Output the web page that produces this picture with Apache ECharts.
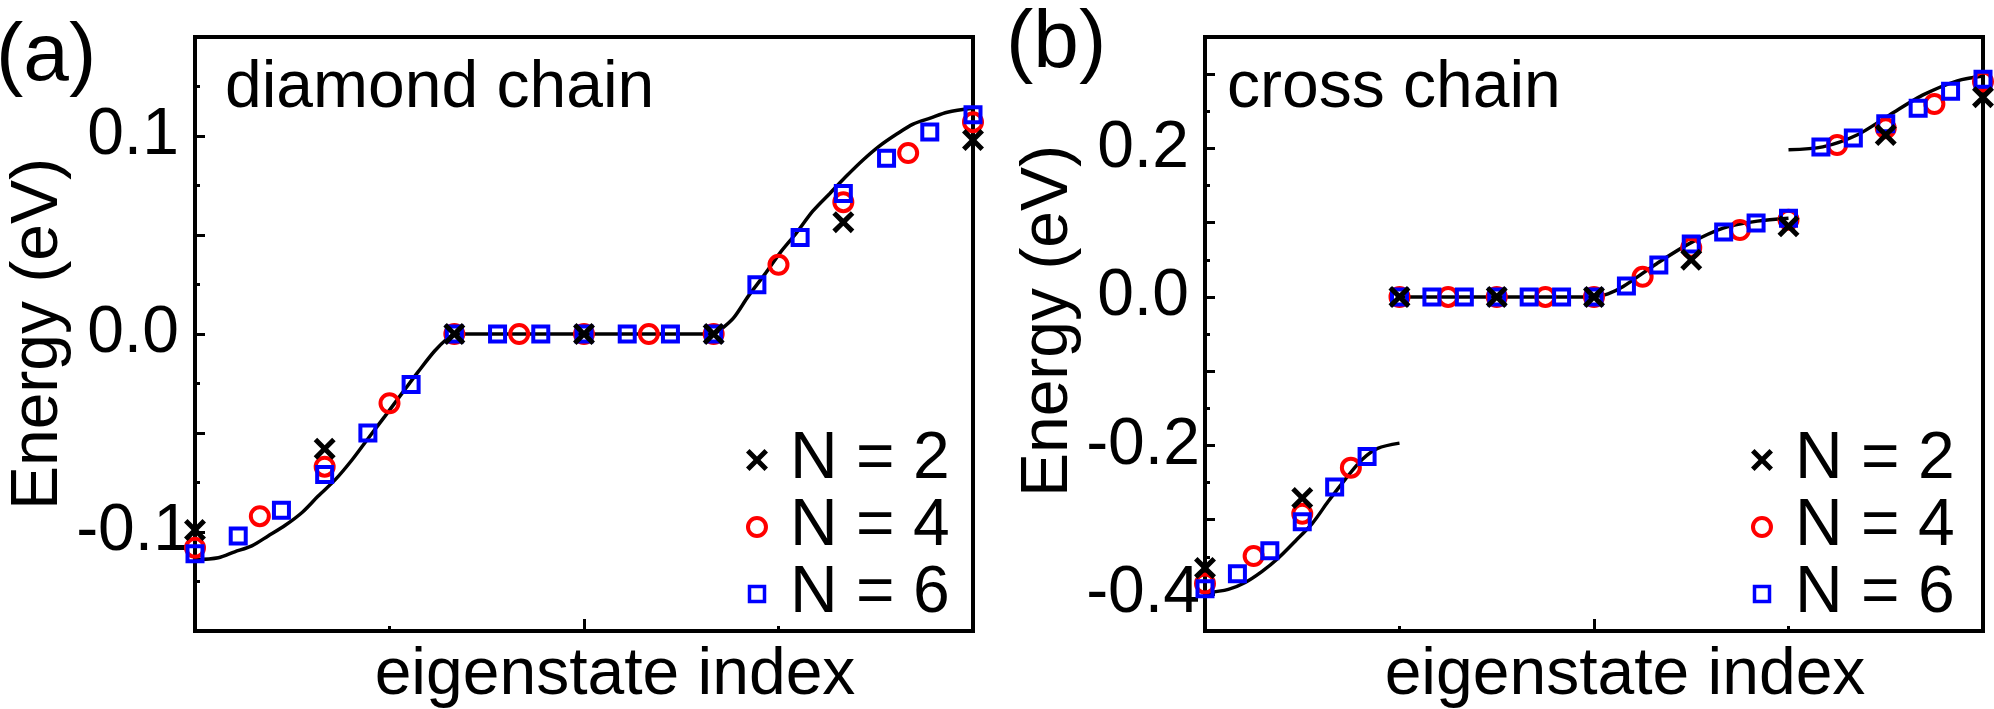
<!DOCTYPE html>
<html>
<head>
<meta charset="utf-8">
<script src="https://cdn.jsdelivr.net/npm/echarts@6/dist/echarts.min.js"></script>
<style>
html,body{margin:0;padding:0;background:#fff;}
#chart{width:1994px;height:709px;}
</style>
</head>
<body>
<div id="chart"></div>
<script>
const FONT = '"Liberation Sans", Arial, Helvetica, sans-serif';

// ---------- Panel (a): diamond chain (values in eV, one per eigenstate) ----------
const diamondN2 = [-0.099, -0.058, 0, 0, 0, 0.0565, 0.098];
const diamondN4 = [-0.108, -0.092, -0.067, -0.035, 0, 0, 0, 0, 0, 0.035, 0.0666, 0.0914, 0.107];
const diamondN6 = [-0.111, -0.102, -0.089, -0.071, -0.050, -0.0255, 0, 0, 0, 0, 0, 0, 0,
                   0.0249, 0.0487, 0.071, 0.0888, 0.102, 0.1107];
// continuum curve, [normalized index, energy]
const diamondCurveLow  = [[0,-0.114],[0.030,-0.113],[0.051,-0.110],[0.073,-0.107],[0.094,-0.102],[0.116,-0.0966],
                          [0.138,-0.090],[0.158,-0.082],[0.180,-0.0737],[0.202,-0.0635],[0.222,-0.053],[0.244,-0.0416],
                          [0.266,-0.030],[0.287,-0.019],[0.308,-0.0086],[0.325,-0.002],[0.3333,0]];
const diamondFlat      = [[0.3333,0],[0.6667,0]];
const diamondCurveHigh = [[0.6667,0],[0.675,0.002],[0.692,0.008],[0.711,0.019],[0.732,0.030],[0.752,0.041],
                          [0.773,0.051],[0.794,0.062],[0.816,0.071],[0.838,0.080],[0.859,0.088],[0.880,0.095],
                          [0.902,0.101],[0.923,0.106],[0.945,0.109],[0.967,0.112],[1,0.114]];

// ---------- Panel (b): cross chain ----------
const crossN2 = [-0.365, -0.271, 0, 0, 0, 0.050, 0.095, 0.218, 0.269];
const crossN4 = [-0.386, -0.349, -0.292, -0.230, 0, 0, 0, 0, 0, 0.027, 0.066, 0.090, 0.104,
                 0.2046, 0.227, 0.2597, 0.290];
const crossN6 = [-0.393, -0.373, -0.342, -0.303, -0.256, -0.215, 0, 0, 0, 0, 0, 0, 0,
                 0.0148, 0.043, 0.0713, 0.0875, 0.0995, 0.106,
                 0.202, 0.214, 0.233, 0.254, 0.277, 0.293];
const crossCurveLow  = [[0,-0.399],[0.030,-0.394],[0.051,-0.385],[0.073,-0.370],[0.094,-0.352],[0.116,-0.329],
                        [0.138,-0.305],[0.158,-0.276],[0.180,-0.246],[0.202,-0.219],[0.222,-0.204],[0.25,-0.197]];
const crossFlat      = [[0.25,0],[0.5,0]];
const crossCurveMid  = [[0.5,0],[0.518,0.004],[0.537,0.0135],[0.581,0.045],[0.623,0.072],[0.666,0.0925],[0.710,0.102],[0.75,0.106]];
const crossCurveHigh = [[0.75,0.198],[0.794,0.202],[0.838,0.218],[0.880,0.245],[0.923,0.272],[0.967,0.291],[1,0.2975]];

// ---------- tick labels & texts ----------
const yTickLabelsA = [-0.1, 0, 0.1];
const yTickLabelsB = [-0.4, -0.2, 0, 0.2];
const yMajorTicksB = [-0.4, -0.3, -0.2, -0.1, 0, 0.1, 0.2, 0.3];
const seriesNames  = ['N = 2', 'N = 4', 'N = 6'];
const panelTitles  = ['(a)', '(b)'];
const panelNotes   = ['diamond chain', 'cross chain'];
const axisNames    = ['eigenstate index', 'Energy (eV)'];

// eigenstate index -> normalized position along the axis
function toPoints(vals) {
  const n = vals.length - 1;
  return vals.map((v, i) => [i / n, v]);
}
function labelFrom(list) {
  return function (v) {
    const hit = list.find(t => Math.abs(t - v) < 1e-6);
    return hit === undefined ? '' : (Math.abs(hit) < 1e-9 ? '0.0' : hit.toFixed(1));
  };
}

const CROSS = 'path://M1.6,0L5,3.4L8.4,0L10,1.6L6.6,5L10,8.4L8.4,10L5,6.6L1.6,10L0,8.4L3.4,5L0,1.6Z';
const CIRCLE_ICON = 'path://M0,0M11,2A9,9,0,1,1,10.98,2ZM22,22';
const SQUARE_ICON = 'path://M0,0M3.5,3.5L18.5,3.5L18.5,18.5L3.5,18.5ZM22,22';

const tickStyle = {color: '#000', width: 3};
const labelStyle = {fontFamily: FONT, fontSize: 66, color: '#000'};

function lineSeries(data, xi, yi) {
  return {type: 'line', data: data, xAxisIndex: xi, yAxisIndex: yi, symbol: 'none', showSymbol: false,
          smooth: 0.3, lineStyle: {color: '#000', width: 3.5}, itemStyle: {color: '#000'},
          z: 1, silent: true, emphasis: {disabled: true}};
}
function markerSeries(kind, vals, xi, yi) {
  const base = {type: 'scatter', name: seriesNames[kind], data: toPoints(vals), xAxisIndex: xi, yAxisIndex: yi,
                silent: true, emphasis: {disabled: true}};
  if (kind === 0) return Object.assign(base, {symbol: CROSS, symbolSize: 22,
                itemStyle: {color: '#000', opacity: 1}, z: 4});
  if (kind === 1) return Object.assign(base, {symbol: 'circle', symbolSize: 18,
                itemStyle: {color: 'rgba(0,0,0,0)', borderColor: '#ff0000', borderWidth: 4, opacity: 1}, z: 2});
  return Object.assign(base, {symbol: 'rect', symbolSize: 15,
                itemStyle: {color: 'rgba(0,0,0,0)', borderColor: '#0000ff', borderWidth: 4, opacity: 1}, z: 3});
}

function xAxisFor(gi) {
  return {
    gridIndex: gi, type: 'value', min: 0, max: 1, interval: 0.5,
    axisLine: {show: true, onZero: false, lineStyle: {color: '#000', width: 4}},
    axisTick: {show: true, inside: true, length: 12, lineStyle: tickStyle},
    minorTick: {show: true, splitNumber: 2, length: 5, lineStyle: tickStyle},
    axisLabel: {show: false}, splitLine: {show: false}, minorSplitLine: {show: false},
    name: axisNames[0], nameLocation: 'middle', nameGap: 12,
    nameTextStyle: Object.assign({padding: [0, 0, 0, 62]}, labelStyle)
  };
}

const legendData = [
  {name: seriesNames[0], icon: CROSS, itemStyle: {color: '#000', borderWidth: 0, opacity: 1}},
  {name: seriesNames[1], icon: CIRCLE_ICON, itemStyle: {color: 'rgba(0,0,0,0)', borderColor: '#ff0000', borderWidth: 4, opacity: 1}},
  {name: seriesNames[2], icon: SQUARE_ICON, itemStyle: {color: 'rgba(0,0,0,0)', borderColor: '#0000ff', borderWidth: 3.5, opacity: 1}}
];
function legendAt(left) {
  return {
    left: left, top: 427, orient: 'vertical', padding: 0, itemGap: 1,
    itemWidth: 56, itemHeight: 22, symbolKeepAspect: true, selectedMode: false,
    textStyle: {fontFamily: FONT, fontSize: 66, color: '#000', lineHeight: 58},
    data: legendData
  };
}

function textEl(str, x, y, size) {
  return {type: 'text', silent: true, z: 100,
          style: {text: str, x: x, y: y, font: size + 'px ' + FONT, fontSize: size, fontFamily: FONT,
                  fill: '#000', align: 'left', verticalAlign: 'middle',
                  textAlign: 'left', textVerticalAlign: 'middle'}};
}

const option = {
  animation: false,
  backgroundColor: '#fff',
  grid: [
    {left: 195, top: 37, width: 778, height: 594, show: true, borderColor: '#000', borderWidth: 4,
     backgroundColor: 'transparent', containLabel: false, outerBoundsMode: 'none'},
    {left: 1205, top: 37, width: 778, height: 594, show: true, borderColor: '#000', borderWidth: 4,
     backgroundColor: 'transparent', containLabel: false, outerBoundsMode: 'none'}
  ],
  xAxis: [xAxisFor(0), xAxisFor(1)],
  yAxis: [
    {
      gridIndex: 0, type: 'value', position: 'left', min: -0.15, max: 0.15, interval: 0.05,
      axisLine: {show: true, onZero: false, lineStyle: {color: '#000', width: 4}},
      axisTick: {show: true, inside: true, length: 10, lineStyle: tickStyle},
      minorTick: {show: true, splitNumber: 2, length: 5, lineStyle: tickStyle},
      splitLine: {show: false}, minorSplitLine: {show: false},
      axisLabel: Object.assign({align: 'center', margin: 62, formatter: labelFrom(yTickLabelsA),
                                showMinLabel: true, showMaxLabel: true}, labelStyle),
      name: axisNames[1], nameLocation: 'middle', nameRotate: 90, nameGap: 113,
      nameTextStyle: Object.assign({}, labelStyle)
    },
    {
      gridIndex: 1, type: 'value', position: 'left', min: -0.45, max: 0.35, interval: 0.05,
      axisLine: {show: true, onZero: false, lineStyle: {color: '#000', width: 4}},
      axisTick: {show: true, inside: true, length: 5, lineStyle: tickStyle},
      splitLine: {show: false},
      axisLabel: Object.assign({align: 'center', margin: 62, formatter: labelFrom(yTickLabelsB),
                                showMinLabel: true, showMaxLabel: true}, labelStyle),
      name: axisNames[1], nameLocation: 'middle', nameRotate: 90, nameGap: 120,
      nameTextStyle: Object.assign({padding: [0, 0, 0, 26]}, labelStyle)
    },
    {
      gridIndex: 1, type: 'value', position: 'left', offset: 0, min: -0.45, max: 0.35, splitNumber: 8,
      axisLine: {show: false, onZero: false},
      axisTick: {show: true, inside: true, length: 10, lineStyle: tickStyle, customValues: yMajorTicksB},
      axisLabel: {show: false}, splitLine: {show: false}
    }
  ],
  legend: [legendAt(744), legendAt(1749)],
  series: [
    lineSeries(diamondCurveLow, 0, 0),
    lineSeries(diamondFlat, 0, 0),
    lineSeries(diamondCurveHigh, 0, 0),
    markerSeries(1, diamondN4, 0, 0),
    markerSeries(2, diamondN6, 0, 0),
    markerSeries(0, diamondN2, 0, 0),

    lineSeries(crossCurveLow, 1, 1),
    lineSeries(crossFlat, 1, 1),
    lineSeries(crossCurveMid, 1, 1),
    lineSeries(crossCurveHigh, 1, 1),
    markerSeries(1, crossN4, 1, 1),
    markerSeries(2, crossN6, 1, 1),
    markerSeries(0, crossN2, 1, 1)
  ],
  graphic: [
    textEl(panelTitles[0], -4, 57, 82),
    textEl(panelTitles[1], 1006, 44, 82),
    textEl(panelNotes[0], 225, 89, 66),
    textEl(panelNotes[1], 1227, 89, 66)
  ]
};

const chart = echarts.init(document.getElementById('chart'), null, {renderer: 'canvas'});
chart.setOption(option);
</script>
</body>
</html>
